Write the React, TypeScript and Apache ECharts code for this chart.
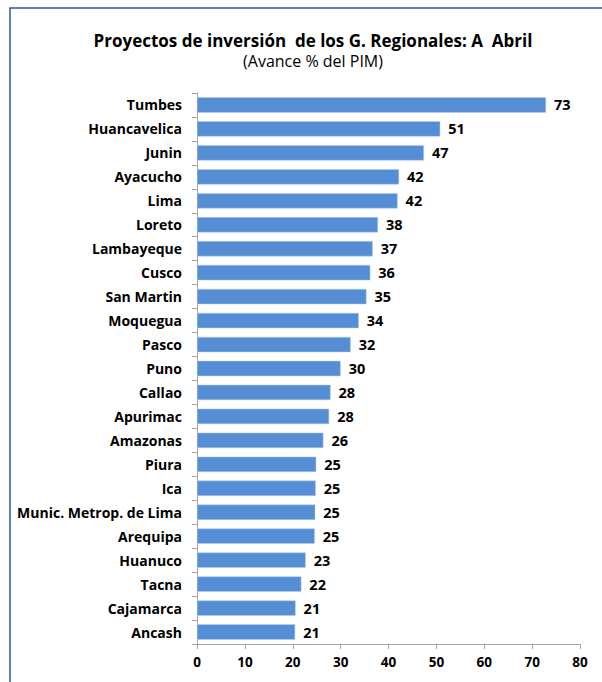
import React, { useEffect, useRef } from "react";
import * as echarts from "echarts";

const categories = [
  "Tumbes", "Huancavelica", "Junin", "Ayacucho", "Lima", "Loreto", "Lambayeque",
  "Cusco", "San Martin", "Moquegua", "Pasco", "Puno", "Callao", "Apurimac",
  "Amazonas", "Piura", "Ica", "Munic. Metrop. de Lima", "Arequipa", "Huanuco",
  "Tacna", "Cajamarca", "Ancash",
];
const values = [
  72.9, 50.8, 47.4, 42.2, 41.9, 37.8, 36.7, 36.2, 35.4, 33.8, 32.1, 30.0, 27.9,
  27.6, 26.4, 24.9, 24.8, 24.7, 24.6, 22.7, 21.8, 20.6, 20.5,
];
const xTicks = [0, 10, 20, 30, 40, 50, 60, 70, 80];

const FONT = "'Open Sans', Lato, sans-serif";

export default function App() {
  const ref = useRef<HTMLDivElement>(null);
  useEffect(() => {
    if (!ref.current) return;
    const chart = echarts.init(ref.current, undefined, { renderer: "svg" });
    chart.setOption({
      animation: false,
      backgroundColor: "#ffffff",
      graphic: [
        {
          type: "rect",
          shape: { x: 10, y: 8, width: 640, height: 720 },
          style: { fill: "none", stroke: "#2D5A98", lineWidth: 1.5 },
          z: 10,
        },
        {
          type: "text",
          x: 313,
          y: 40,
          style: {
            text: "Proyectos de inversión  de los G. Regionales: A  Abril",
            font: `bold 17px ${FONT}`,
            fill: "#000000",
            align: "center",
            verticalAlign: "middle",
          },
        },
        {
          type: "text",
          x: 313,
          y: 61,
          style: {
            text: "(Avance % del PIM)",
            font: `16px ${FONT}`,
            fill: "#000000",
            align: "center",
            verticalAlign: "middle",
          },
        },
      ],
      grid: { left: 197, right: 22, top: 93, bottom: 38, containLabel: false },
      xAxis: {
        type: "value",
        min: xTicks[0],
        max: xTicks[xTicks.length - 1],
        interval: 10,
        splitLine: { show: false },
        axisLine: { show: true, lineStyle: { color: "#a6a6a6", width: 1 } },
        axisTick: { show: true, length: 5, lineStyle: { color: "#a6a6a6" } },
        axisLabel: {
          color: "#000000",
          fontFamily: FONT,
          fontWeight: "bold",
          fontSize: 13.5,
          margin: 11,
        },
      },
      yAxis: {
        type: "category",
        data: categories,
        inverse: true,
        axisLine: { show: true, lineStyle: { color: "#a6a6a6", width: 1 } },
        axisTick: { show: true, length: 5, lineStyle: { color: "#a6a6a6" } },
        axisLabel: {
          color: "#000000",
          fontFamily: FONT,
          fontWeight: "bold",
          fontSize: 14,
          margin: 15,
        },
      },
      series: [
        {
          type: "bar",
          data: values,
          barWidth: "64%",
          itemStyle: { color: "#558ED5", borderColor: "#B9CDE5", borderWidth: 0.5 },
          label: {
            show: true,
            position: "right",
            distance: 8,
            color: "#000000",
            fontFamily: FONT,
            fontWeight: "bold",
            fontSize: 14.5,
            formatter: (p: any) => String(Math.round(p.value)),
          },
        },
      ],
    });
    return () => chart.dispose();
  }, []);
  return (
    <div
      ref={ref}
      style={{ position: "absolute", left: 0, top: 0, width: 602, height: 682 }}
    />
  );
}
